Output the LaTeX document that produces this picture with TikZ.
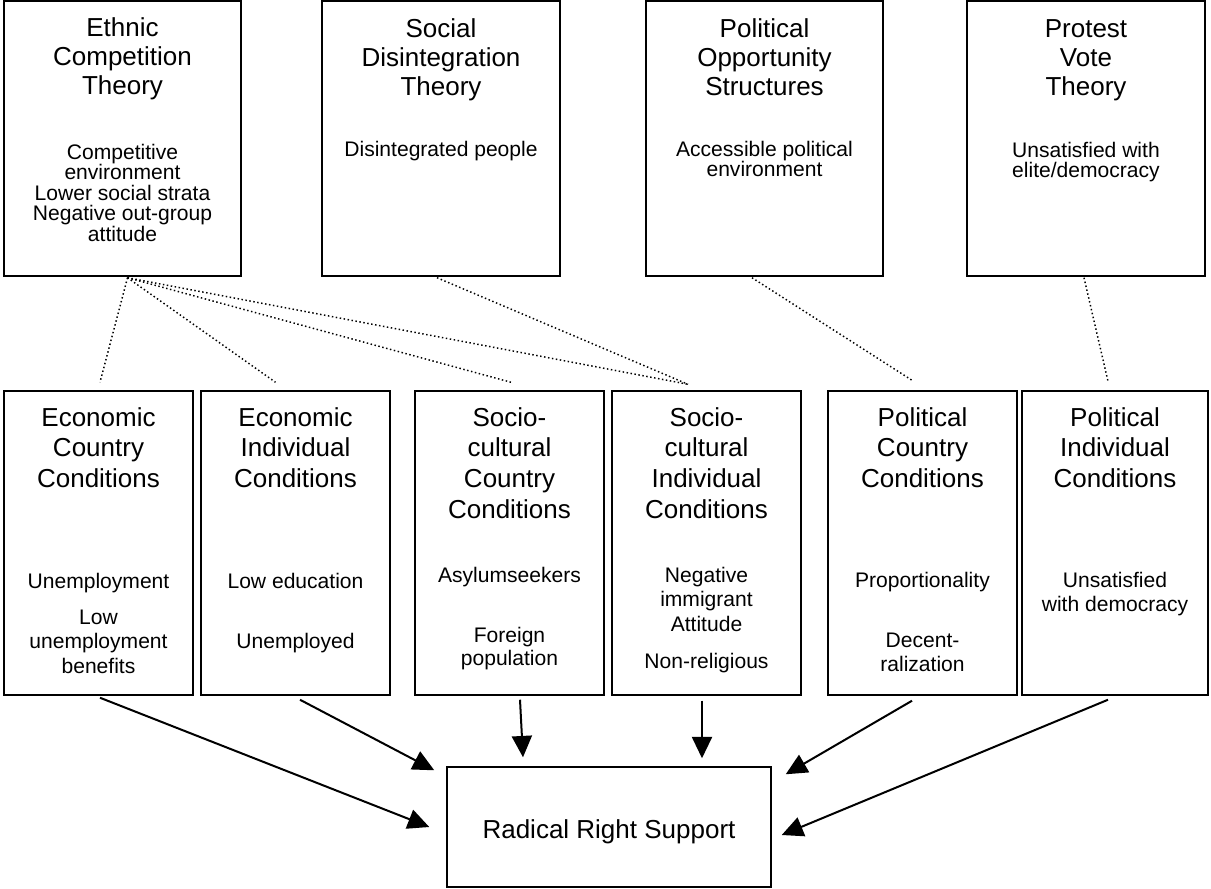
\documentclass[tikz,border=0pt]{standalone}
\usepackage{fontspec}
\setmainfont{Liberation Sans}
\usetikzlibrary{arrows.meta,calc}
\newcommand\txtblk[2]{\vtop{\baselineskip=#1\lineskiplimit=-\maxdimen\lineskip=0pt\halign{\hfil##\hfil\cr#2\crcr}}}
\begin{document}
\begin{tikzpicture}[x=0.75pt,y=-0.75pt,
  box/.style={draw, line width=1.1pt, inner sep=0pt},
  bx/.style 2 args={minimum width=#1*0.75pt, minimum height=#2*0.75pt},
  ttl/.style={font=\fontsize{19.5}{22}\selectfont, anchor=base, inner sep=0pt},
  bdy/.style={font=\fontsize{15.8}{18}\selectfont, anchor=base, inner sep=0pt},
  dotln/.style={line width=1.1pt, dash pattern=on 1.1pt off 1.9pt},
  arr/.style={line width=1.5pt, -{Triangle[length=16pt,width=15pt]}}]
\useasboundingbox (0,0) rectangle (1211,889);
% top boxes
\node[box, bx={237}{275}] (ethnic) at (122.5,138.5) {};
\node[box, bx={238}{275}] (social) at (441,138.5) {};
\node[box, bx={237}{275}] (polopp) at (764.5,138.5) {};
\node[box, bx={238}{275}] (protest) at (1086,138.5) {};
% bottom boxes
\node[box, bx={189}{304}] (b1) at (98.5,543) {};
\node[box, bx={189}{304}] (b2) at (295.5,543) {};
\node[box, bx={189}{304}] (b3) at (509.5,543) {};
\node[box, bx={189}{304}] (b4) at (706.5,543) {};
\node[box, bx={189}{304}] (b5) at (922.5,543) {};
\node[box, bx={186}{304}] (b6) at (1115,543) {};
% result box
\node[box, bx={324}{120}] (rrs) at (609,827) {};
% top texts
\node[ttl] (t1) at (122.5,36) {\txtblk{21.75pt}{Ethnic\cr Competition\cr Theory}};
\node[bdy] (t1b) at (122.5,159) {\txtblk{15.45pt}{Competitive\cr environment\cr Lower social strata\cr Negative out-group\cr attitude}};
\node[ttl] (t2) at (441,37) {\txtblk{21.75pt}{Social\cr Disintegration\cr Theory}};
\node[bdy] (t2b) at (441,156) {\txtblk{15.45pt}{Disintegrated people}};
\node[ttl] (t3) at (764.5,37) {\txtblk{21.75pt}{Political\cr Opportunity\cr Structures}};
\node[bdy] (t3b) at (764.5,156) {\txtblk{15.45pt}{Accessible political\cr environment}};
\node[ttl] (t4) at (1086,37) {\txtblk{21.75pt}{Protest\cr Vote\cr Theory}};
\node[bdy] (t4b) at (1086,157) {\txtblk{15.45pt}{Unsatisfied with\cr elite/democracy}};
% bottom texts
\node[ttl] (u1) at (98.5,426) {\txtblk{23pt}{Economic\cr Country\cr Conditions}};
\node[bdy] (u1a) at (98.5,588) {\txtblk{18.4pt}{Unemployment}};
\node[bdy] (u1b) at (98.5,624) {\txtblk{18.4pt}{Low\cr unemployment\cr benefits}};
\node[ttl] (u2) at (295.5,426) {\txtblk{23pt}{Economic\cr Individual\cr Conditions}};
\node[bdy] (u2a) at (295.5,588) {\txtblk{18.4pt}{Low education}};
\node[bdy] (u2b) at (295.5,648) {\txtblk{18.4pt}{Unemployed}};
\node[ttl] (u3) at (509.5,426) {\txtblk{23pt}{Socio-\cr cultural\cr Country\cr Conditions}};
\node[bdy] (u3a) at (509.5,582) {\txtblk{18.4pt}{Asylumseekers}};
\node[bdy] (u3b) at (509.5,642) {\txtblk{17.5pt}{Foreign\cr population}};
\node[ttl] (u4) at (706.5,426) {\txtblk{23pt}{Socio-\cr cultural\cr Individual\cr Conditions}};
\node[bdy] (u4a) at (706.5,582) {\txtblk{18.4pt}{Negative\cr immigrant\cr Attitude}};
\node[bdy] (u4b) at (706.5,668) {\txtblk{18.4pt}{Non-religious}};
\node[ttl] (u5) at (922.5,426) {\txtblk{23pt}{Political\cr Country\cr Conditions}};
\node[bdy] (u5a) at (922.5,587) {\txtblk{18.4pt}{Proportionality}};
\node[bdy] (u5b) at (922.5,647) {\txtblk{18.4pt}{Decent-\cr ralization}};
\node[ttl] (u6) at (1115,426) {\txtblk{23pt}{Political\cr Individual\cr Conditions}};
\node[bdy] (u6a) at (1115,587) {\txtblk{18.4pt}{Unsatisfied\cr with democracy}};
\node[ttl] (rt) at (609,838) {Radical Right Support};
% dotted links
\draw[dotln] ($(ethnic.south)+(5,1)$) -- ($(b1.north)+(1.5,-8)$);
\draw[dotln] ($(ethnic.south)+(5,1)$) -- ($(b2.north)+(-20,-8)$);
\draw[dotln] ($(ethnic.south)+(5,1)$) -- ($(b3.north)+(1.5,-8)$);
\draw[dotln] ($(ethnic.south)+(5,1)$) -- ($(b4.north)+(-18.5,-6)$);
\draw[dotln] ($(social.south)+(-4,1)$) -- ($(b4.north)+(-18.5,-6)$);
\draw[dotln] ($(polopp.south)+(-12.5,1)$) -- ($(b5.north)+(-10.5,-10)$);
\draw[dotln] ($(protest.south)+(-2,1)$) -- ($(b6.north)+(-7,-9)$);
% arrows
\draw[arr] ($(b1.south)+(1.5,2)$) -- ($(rrs.west)+(-17,0)$);
\draw[arr] ($(b2.south)+(4.5,4)$) -- ($(rrs.north west)+(-12,4)$);
\draw[arr] ($(b3.south)+(10.5,4)$) -- ($(rrs.north)+(-86,-9)$);
\draw[arr] ($(b4.south)+(-4.5,5)$) -- ($(rrs.north)+(93,-8)$);
\draw[arr] ($(b5.south)+(-10.5,5)$) -- ($(rrs.north east)+(14,8)$);
\draw[arr] ($(b6.south)+(-7,4)$) -- ($(rrs.east)+(10,8)$);
\end{tikzpicture}
\end{document}
